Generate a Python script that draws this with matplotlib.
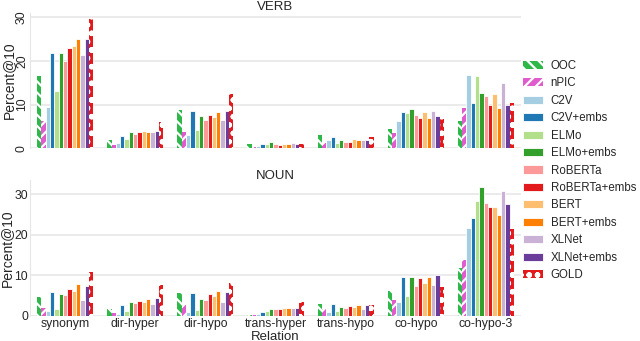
import numpy as np
import matplotlib
matplotlib.use('Agg')
import matplotlib.pyplot as plt
import seaborn as sns

relations = ['synonym', 'dir-hyper', 'dir-hypo', 'trans-hyper', 'trans-hypo', 'co-hypo', 'co-hypo-3']
models = ['OOC', 'nPIC', 'C2V', 'C2V+embs', 'ELMo', 'ELMo+embs', 'RoBERTa', 'RoBERTa+embs',
          'BERT', 'BERT+embs', 'XLNet', 'XLNet+embs', 'GOLD']

# rows = models, columns = relations
verb = [
    [16.6, 1.9, 8.8, 1.0, 3.0, 4.5, 6.3],    # OOC
    [6.3, 0.8, 3.7, 0.2, 1.3, 3.6, 9.3],     # nPIC
    [9.4, 1.3, 3.0, 0.6, 1.9, 6.3, 16.8],    # C2V
    [21.9, 2.8, 8.5, 1.1, 2.7, 8.3, 10.4],   # C2V+embs
    [13.2, 2.2, 4.2, 0.9, 1.3, 8.0, 16.5],   # ELMo
    [21.9, 3.7, 7.4, 1.4, 1.8, 9.0, 12.7],   # ELMo+embs
    [20.0, 3.3, 6.5, 1.1, 1.5, 7.6, 12.0],   # RoBERTa
    [23.0, 3.7, 7.6, 0.8, 1.5, 6.9, 9.9],    # RoBERTa+embs
    [23.4, 4.0, 7.1, 1.0, 2.2, 8.2, 12.4],   # BERT
    [25.1, 3.7, 8.3, 1.0, 1.9, 7.0, 9.2],    # BERT+embs
    [21.4, 3.8, 6.5, 1.3, 1.9, 8.5, 15.0],   # XLNet
    [25.0, 4.0, 8.6, 1.0, 1.9, 7.4, 9.9],    # XLNet+embs
    [29.5, 6.0, 12.4, 1.1, 2.7, 7.2, 10.4],  # GOLD
]
noun = [
    [4.7, 1.6, 5.6, 0.1, 2.8, 6.1, 11.9],
    [2.0, 0.8, 2.6, 0.1, 1.6, 3.9, 13.8],
    [1.2, 0.5, 1.0, 0.5, 1.0, 3.4, 21.6],
    [5.9, 2.6, 5.7, 0.9, 2.8, 9.6, 24.1],
    [1.6, 1.2, 1.5, 1.2, 1.2, 4.8, 28.4],
    [5.3, 3.5, 4.1, 1.6, 2.1, 9.6, 31.9],
    [5.2, 3.1, 4.0, 1.6, 1.8, 7.3, 27.9],
    [6.7, 3.7, 5.3, 1.6, 2.3, 9.4, 26.9],
    [6.2, 3.5, 4.9, 1.9, 2.1, 8.2, 26.8],
    [7.9, 4.2, 6.1, 1.9, 2.6, 9.6, 24.9],
    [4.0, 3.0, 3.4, 1.9, 1.7, 7.7, 30.7],
    [7.3, 4.4, 5.9, 1.9, 2.6, 10.1, 27.5],
    [10.8, 7.6, 8.0, 3.5, 2.6, 7.2, 21.4],
]

paired = sns.color_palette('Paired', 10)
colors = ['#2fb84a', '#e05ccc'] + list(paired) + ['#e31a1c']
hatches = ['\\\\\\', '///'] + [None] * 10 + ['oo']

sns.set_style('whitegrid')
plt.rcParams['font.family'] = ['Liberation Sans', 'DejaVu Sans']
plt.rcParams['hatch.linewidth'] = 1.6

fig = plt.figure(figsize=(6.4, 3.41), dpi=100)
ax1 = fig.add_axes([0.047, 0.565, 0.767, 0.397])
ax2 = fig.add_axes([0.047, 0.074, 0.767, 0.398])

x = np.arange(len(relations))
n = len(models)
w = 0.8 / n

for ax, data, title in [(ax1, verb, 'VERB'), (ax2, noun, 'NOUN')]:
    for i, m in enumerate(models):
        pos = x - 0.4 + w * (i + 0.5)
        if hatches[i]:
            ax.bar(pos, data[i], w, color=colors[i], edgecolor='white',
                   hatch=hatches[i], linewidth=0, label=m)
        else:
            ax.bar(pos, data[i], w, color=colors[i], edgecolor='white',
                   linewidth=0.6, label=m)
    ax.set_xlim(-0.5, len(relations) - 0.5)
    ax.set_xticks(x)
    ax.set_yticks([0, 10, 20, 30])
    ax.set_title(title, fontsize=9.5, pad=1)
    ax.set_ylabel('Percent@10', fontsize=10, labelpad=0)
    ax.tick_params(axis='both', length=0, labelsize=8.8, pad=1.5)
    ax.grid(axis='x', visible=False)
    ax.grid(axis='y', color='#e6e6e6', linewidth=1.1)
    for s in ['top', 'right', 'bottom']:
        ax.spines[s].set_visible(False)
    ax.spines['left'].set_color('#e6e6e6')

ax1.set_xticklabels([])
for lbl in ax1.get_yticklabels():
    lbl.set_rotation(90)
    lbl.set_va('center')
ax2.set_xticklabels(relations)
ax2.set_xlabel('Relation', fontsize=9.5, labelpad=0.5)

handles, labels = ax1.get_legend_handles_labels()
fig.legend(handles, labels, loc='center left', bbox_to_anchor=(0.817, 0.5),
           frameon=False, fontsize=8.3, handlelength=1.75, labelspacing=0.47,
           handletextpad=0.65, borderpad=0, borderaxespad=0)

plt.savefig('out.png', dpi=100)
